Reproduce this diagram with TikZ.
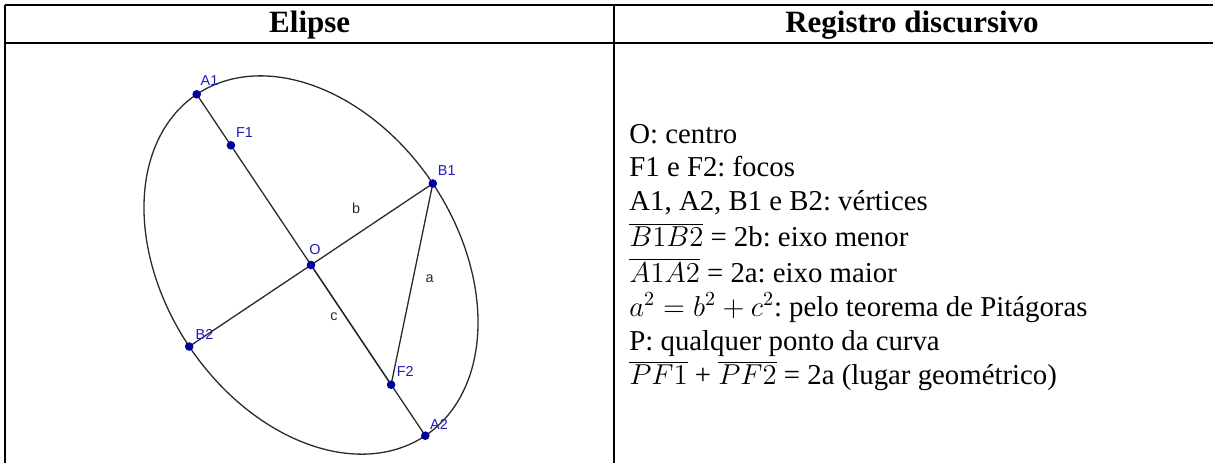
\documentclass[tikz,border=0pt]{standalone}
\usepackage{fontspec}
\setmainfont{Liberation Serif}
\newfontfamily\geofont{Liberation Sans}
\usepackage{xcolor}
\definecolor{point-blue}{HTML}{00009A}
\definecolor{label-blue}{HTML}{1E1EB4}
\definecolor{line-gray}{HTML}{2A2A2A}
\frenchspacing

\begin{document}
\begin{tikzpicture}[x=0.5pt, y=-0.5pt,
          rule/.style={line width=0.8pt, black},
          seg/.style={line width=0.65pt, line-gray},
          pt/.style={circle, fill=point-blue, inner sep=0pt, minimum size=4.3pt},
          lbl/.style={font=\geofont\fontsize{7.2}{8}\selectfont, text=label-blue, inner sep=0pt},
          side/.style={font=\geofont\fontsize{7.2}{8}\selectfont, text=line-gray, inner sep=0pt},
          head/.style={font=\fontsize{15.5}{18}\selectfont\bfseries, anchor=base, inner sep=0pt},
          txt/.style={font=\fontsize{14.4}{17}\selectfont, anchor=base west, inner sep=0pt}]
        % Table: header row (y=5..43), left cell = ellipse, right cell = list.
        % Coordinates in pixels of the reference, y pointing down.
        \useasboundingbox (0,0) rectangle (1213,463);
        \draw[rule] (5,5) -- (1213,5);
        \draw[rule] (5,42.7) -- (1213,42.7);
        \draw[rule] (5,5) -- (5,463);
        \draw[rule] (614,5) -- (614,463);
        \node[head] (hEl) at (309.7,32.3) {Elipse};
        \node[head] (hReg) at (912,32.3) {Registro discursivo};
        % ellipse: centre O, semi-axes along OA2 and OB1
        \coordinate (O) at (311,265);
        \coordinate (A1) at (196.7,94.3);
        \coordinate (A2) at (425.3,435.7);
        \coordinate (B1) at (432.8,183.5);
        \coordinate (B2) at (189.2,346.5);
        \coordinate (F1) at (230.9,145.3);
        \coordinate (F2) at (391.1,384.7);
        \draw[seg] plot[domain=0:360, samples=144, smooth cycle, variable=\t]
              ({311+114.3*cos(\t)+121.8*sin(\t)}, {265+170.7*cos(\t)-81.5*sin(\t)});
        \draw[seg] (A1) -- (A2);
        \draw[seg] (B1) -- (B2);
        \draw[seg] (O) -- (F2);
        \draw[seg] (B1) -- (F2);
        \foreach \p in {A1,A2,B1,B2,F1,F2,O}
          \node[pt] (p\p) at (\p) {};
        \node[lbl] (lA1) at (209.5,81) {A1};
        \node[lbl] (lF1) at (244.5,132.5) {F1};
        \node[lbl] (lO) at (315,249.5) {O};
        \node[lbl] (lB1) at (446.7,170.3) {B1};
        \node[lbl] (lB2) at (204.5,334.5) {B2};
        \node[lbl] (lF2) at (405.3,371) {F2};
        \node[lbl] (lA2) at (439,424) {A2};
        \node[side] (sb) at (356,208) {b};
        \node[side] (sa) at (429.5,278.3) {a};
        \node[side] (sc) at (334,317) {c};
        % right cell
        \node[txt] (t1) at (629,143.3) {O: centro};
        \node[txt] (t2) at (629,176.7) {F1 e F2: focos};
        \node[txt] (t3) at (629,210) {A1, A2, B1 e B2: vértices};
        \node[txt] (t4) at (629,246.7) {$\overline{B1B2}$ = 2b: eixo menor};
        \node[txt] (t5) at (629,282.3) {$\overline{A1A2}$ = 2a: eixo maior};
        \node[txt] (t6) at (629,316.3) {$a^2 = b^2 + c^2$: pelo teorema de Pitágoras};
        \node[txt] (t7) at (629,350.3) {P: qualquer ponto da curva};
        \node[txt] (t8) at (629,384.7) {$\overline{PF1}$ + $\overline{PF2}$ = 2a (lugar geométrico)};
      \end{tikzpicture}
\end{document}
